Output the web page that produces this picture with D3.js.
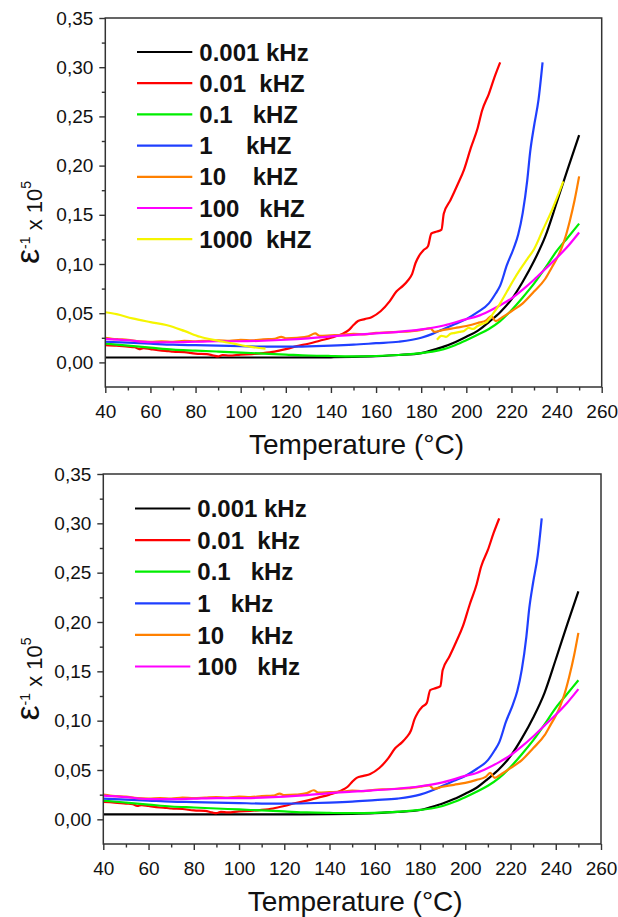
<!DOCTYPE html>
<html><head><meta charset="utf-8">
<script src="https://cdn.jsdelivr.net/npm/d3@7/dist/d3.min.js"></script>
<style>
body{margin:0;background:#fff}
svg{display:block}
text{font-family:"Liberation Sans",Arial,sans-serif;fill:#111}
</style>
</head><body>
<svg id="c" width="618" height="917"></svg>
<script>
// ---- data ----
const xTicks = [40,60,80,100,120,140,160,180,200,220,240,260];
const xMinor = [50,70,90,110,130,150,170,190,210,230,250];
const yTicks = [0,0.05,0.10,0.15,0.20,0.25,0.30,0.35];
const yTickLabels = ["0,00","0,05","0,10","0,15","0,20","0,25","0,30","0,35"];
const yMinor = [0.025,0.075,0.125,0.175,0.225,0.275,0.325];

const legendTop = ["0.001 kHz","0.01  kHZ","0.1   kHZ","1     kHZ","10    kHZ","100   kHZ","1000  kHZ"];
const legendBottom = ["0.001 kHz","0.01  kHz","0.1   kHz","1   kHz","10    kHz","100   kHz"];
const colors = ["#000000","#ff0000","#00ee00","#1f3fff","#ff8000","#ff00ff","#f5f500"];

const s0001 = [[40,0.005],[60,0.005],[80,0.005],[100,0.005],[120,0.005],[140,0.0052],[150,0.0056],[160,0.0063],[170,0.0075],[180,0.0095],[185,0.0125],[190,0.0160],[195,0.0205],[200,0.026],[205,0.032],[210,0.041],[215,0.051],[220,0.064],[225,0.082],[230,0.103],[235,0.128],[240,0.162],[245,0.197],[250,0.231]];
const s001 = [[40,0.0176],[45,0.017],[50,0.016],[53,0.0155],[55,0.0135],[57,0.0145],[60,0.0135],[65,0.012],[68,0.0115],[70,0.011],[75,0.0105],[80,0.009],[85,0.0085],[88,0.007],[90,0.0062],[92,0.0075],[95,0.007],[100,0.008],[105,0.0085],[110,0.0095],[115,0.011],[120,0.0135],[125,0.0165],[130,0.019],[135,0.022],[140,0.025],[145,0.029],[148,0.033],[150,0.038],[152,0.042],[155,0.044],[158,0.046],[162,0.052],[166,0.062],[169,0.072],[172,0.078],[174,0.083],[176,0.09],[177.5,0.101],[179,0.108],[181,0.114],[183,0.118],[184.5,0.131],[187,0.133],[189,0.135],[190,0.151],[193,0.165],[196,0.18],[199,0.196],[202,0.218],[205,0.238],[207,0.256],[210,0.273],[212.5,0.29],[215,0.305]];
const s01 = [[40,0.019],[50,0.017],[60,0.015],[70,0.013],[80,0.012],[90,0.011],[100,0.010],[110,0.009],[120,0.008],[130,0.007],[140,0.0065],[150,0.0062],[160,0.0065],[170,0.0075],[180,0.0095],[185,0.011],[190,0.0135],[195,0.0175],[200,0.0225],[205,0.028],[210,0.034],[215,0.042],[220,0.053],[225,0.066],[230,0.080],[235,0.096],[240,0.113],[245,0.127],[250,0.141]];
const s1 = [[40,0.021],[50,0.020],[60,0.019],[70,0.018],[80,0.0175],[90,0.017],[100,0.0165],[110,0.016],[120,0.016],[130,0.0163],[140,0.017],[150,0.018],[160,0.0195],[170,0.021],[180,0.025],[185,0.029],[190,0.034],[195,0.039],[200,0.044],[205,0.051],[210,0.060],[213,0.070],[215,0.078],[218,0.099],[221,0.116],[223,0.13],[225,0.152],[227,0.185],[228.3,0.214],[230,0.24],[232,0.267],[233.8,0.305]];
const s10 = [[40,0.025],[43,0.024],[46,0.0235],[50,0.023],[55,0.0215],[60,0.021],[65,0.0215],[70,0.021],[75,0.022],[80,0.0215],[85,0.022],[90,0.0225],[95,0.022],[100,0.023],[105,0.0225],[110,0.0235],[115,0.024],[118,0.026],[120,0.0245],[125,0.025],[130,0.0265],[133,0.0295],[135,0.027],[140,0.0275],[145,0.028],[150,0.029],[155,0.0285],[160,0.030],[165,0.0305],[170,0.031],[175,0.0315],[180,0.033],[184,0.0345],[186,0.031],[190,0.033],[195,0.035],[200,0.037],[205,0.040],[209,0.043],[211,0.047],[213,0.042],[216,0.046],[220,0.052],[225,0.060],[230,0.072],[235,0.085],[238,0.097],[240,0.105],[242,0.115],[244,0.128],[246,0.145],[248,0.165],[250,0.189]];
const s100 = [[40,0.024],[50,0.0225],[60,0.0205],[70,0.0205],[80,0.021],[90,0.0215],[100,0.0215],[110,0.022],[120,0.023],[130,0.0245],[140,0.0265],[150,0.028],[160,0.0295],[170,0.031],[180,0.0335],[190,0.0375],[200,0.044],[205,0.047],[210,0.052],[215,0.058],[220,0.065],[225,0.074],[230,0.084],[235,0.095],[240,0.106],[245,0.118],[250,0.132]];
const s1000a = [[40,0.051],[45,0.049],[52,0.0447],[60,0.041],[67,0.038],[75,0.032],[82,0.026],[90,0.022],[97,0.019],[104,0.016],[111,0.014]];
const s1000b = [[187,0.023],[189,0.027],[191,0.026],[193,0.029],[195,0.030],[197,0.031],[199,0.032],[201,0.035],[203,0.034],[205,0.037],[207,0.039],[209,0.041],[212,0.050],[215,0.060],[218,0.072],[221,0.084],[224,0.095],[227,0.105],[230,0.115],[234,0.135],[238,0.155],[241,0.172],[243,0.184]];

// ---- drawing ----
const svg = d3.select("#c");
const frameColor = "#333";

function panel(cfg){
  const x = d3.scaleLinear().domain([40,260]).range([cfg.left, cfg.right]);
  const y = d3.scaleLinear().domain([-0.025,0.35]).range([cfg.bottom, cfg.top]);
  const g = svg.append("g");

  // curves
  const line = d3.line().x(d=>x(d[0])).y(d=>y(d[1])).curve(d3.curveMonotoneX);
  g.append("g").selectAll("path").data(cfg.series).join("path")
    .attr("d", d=>line(d.data)).attr("fill","none")
    .attr("stroke", d=>colors[d.c]).attr("stroke-width",2.2)
    .attr("stroke-linejoin","round");

  // axes
  const xa = g.append("g").attr("transform",`translate(0,${cfg.bottom})`)
    .call(d3.axisBottom(x).tickValues(xTicks).tickSize(6).tickPadding(8).tickFormat(d3.format("d")));
  g.append("g").attr("transform",`translate(0,${cfg.bottom})`)
    .call(d3.axisBottom(x).tickValues(xMinor).tickSize(3.5).tickFormat(""));
  const ya = g.append("g").attr("transform",`translate(${cfg.left},0)`)
    .call(d3.axisLeft(y).tickValues(yTicks).tickSize(6).tickPadding(6).tickFormat((d,i)=>yTickLabels[i]));
  g.append("g").attr("transform",`translate(${cfg.left},0)`)
    .call(d3.axisLeft(y).tickValues(yMinor).tickSize(3.5).tickFormat(""));
  g.selectAll(".domain").remove();
  g.selectAll(".tick line").attr("stroke",frameColor).attr("stroke-width",1.4);
  g.selectAll(".tick text").attr("font-size",19).attr("fill","#111")
    .attr("font-family","'Liberation Sans',Arial,sans-serif");
  xa.selectAll(".tick text").attr("dy","0.9em");

  g.append("rect").attr("x",cfg.left).attr("y",cfg.top)
    .attr("width",cfg.right-cfg.left).attr("height",cfg.bottom-cfg.top)
    .attr("fill","none").attr("stroke",frameColor).attr("stroke-width",1.5);

  // x title
  g.append("text").attr("x",(cfg.left+cfg.right)/2+3).attr("y",cfg.bottom+67)
    .attr("text-anchor","middle").attr("font-size",28).text("Temperature (°C)");

  // y title
  const cy = (cfg.top+cfg.bottom)/2 + 20;
  const yt = g.append("text").attr("transform",`translate(42,${cy}) rotate(-90)`)
    .attr("text-anchor","middle").attr("font-size",22);
  yt.append("tspan").attr("font-size",34).attr("dy",-3).text("ε");
  yt.append("tspan").attr("font-size",14).attr("dy",-9).text("-1");
  yt.append("tspan").attr("dy",12).text(" x 10");
  yt.append("tspan").attr("font-size",14).attr("dy",-11).text("5");

  // legend
  const lg = g.append("g");
  cfg.legend.forEach((lab,i)=>{
    const ly = cfg.legTop + i*cfg.legStep;
    lg.append("line").attr("x1",cfg.left+31.7).attr("x2",cfg.left+87)
      .attr("y1",ly).attr("y2",ly).attr("stroke",colors[i]).attr("stroke-width",2.2);
    lg.append("text").attr("x",cfg.left+94).attr("y",ly).attr("dy","0.36em")
      .attr("font-size",24).attr("font-weight","bold")
      .style("white-space","pre").text(lab);
  });
}

const seriesTop = [
  {c:0,data:s0001},{c:1,data:s001},{c:2,data:s01},{c:3,data:s1},
  {c:4,data:s10},{c:5,data:s100},{c:6,data:s1000a},{c:6,data:s1000b}
];
const seriesBottom = seriesTop.filter(d=>d.c<6);

panel({left:105.3,right:601.7,top:18,bottom:387,series:seriesTop,legend:legendTop,legTop:52,legStep:31.2});
panel({left:103.3,right:601,top:474,bottom:844,series:seriesBottom,legend:legendBottom,legTop:508.5,legStep:31.6});
</script>
</body></html>
